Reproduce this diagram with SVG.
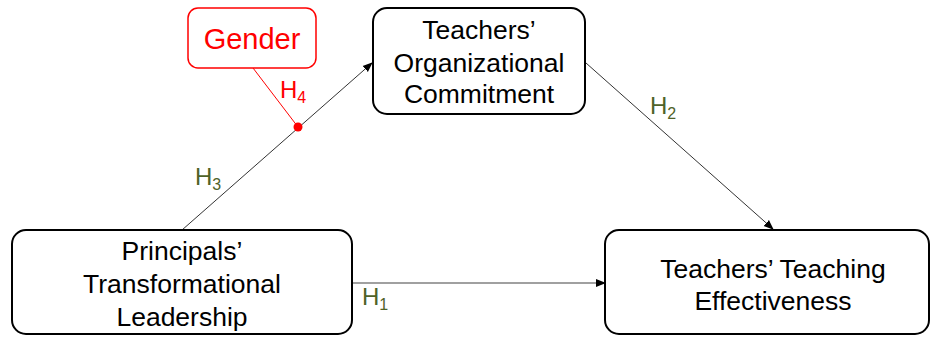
<svg xmlns="http://www.w3.org/2000/svg" width="932" height="337" viewBox="0 0 932 337">
<defs>
<marker id="arr" markerWidth="10" markerHeight="10" refX="9" refY="5" orient="auto" markerUnits="userSpaceOnUse">
<path d="M0,1 L10,5 L0,9 Z" fill="#000"/>
</marker>
<style>
.box{fill:#fff;stroke:#000;stroke-width:2}
.t{font-family:"Liberation Sans",Arial,sans-serif;font-size:26.5px;fill:#000;text-anchor:middle}
.h{font-family:"Liberation Sans",Arial,sans-serif;font-size:24px;fill:#4F6228}
.conn{stroke:#333;stroke-width:1;fill:none}
</style>
</defs>
<rect width="932" height="337" fill="#fff"/>
<g id="connectors">
<line class="conn" x1="182" y1="230" x2="372" y2="63" marker-end="url(#arr)"/>
<line class="conn" x1="586" y1="63" x2="773" y2="229" marker-end="url(#arr)"/>
<line x1="352" y1="283" x2="605" y2="283" stroke="#808080" stroke-width="1.5" marker-end="url(#arr)"/>
<line x1="253" y1="68" x2="298" y2="127" stroke="#FF0000" stroke-width="1"/>
<circle cx="298" cy="127" r="4.5" fill="#FF0000"/>
<text class="h" x="195" y="185">H<tspan font-size="16" dy="5">3</tspan></text>
<text class="h" x="280" y="98" style="fill:#FF0000">H<tspan font-size="16" dy="5">4</tspan></text>
<text class="h" x="650" y="114">H<tspan font-size="16" dy="5">2</tspan></text>
<text class="h" x="362" y="305">H<tspan font-size="16" dy="5">1</tspan></text>
</g>
<g id="gender">
<rect x="188" y="8" width="128" height="60" rx="10" fill="#fff" stroke="#FF0000" stroke-width="1.5"/>
<text class="t" x="252" y="49" style="fill:#FF0000;font-size:29px">Gender</text>
</g>
<g id="commitment">
<rect class="box" x="373" y="8" width="212" height="106" rx="14"/>
<text class="t" x="479" y="39">Teachers’</text>
<text class="t" x="479" y="72">Organizational</text>
<text class="t" x="479" y="103">Commitment</text>
</g>
<g id="leadership">
<rect class="box" x="12" y="230" width="340" height="104" rx="14"/>
<text class="t" x="182" y="260">Principals’</text>
<text class="t" x="182" y="293">Transformational</text>
<text class="t" x="182" y="326">Leadership</text>
</g>
<g id="effectiveness">
<rect class="box" x="605" y="230" width="324" height="104" rx="14"/>
<text class="t" x="773" y="278">Teachers’ Teaching</text>
<text class="t" x="773" y="310">Effectiveness</text>
</g>
</svg>
